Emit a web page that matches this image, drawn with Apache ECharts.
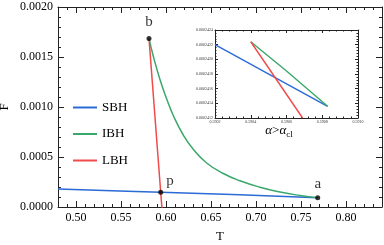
<!DOCTYPE html>
<html><head><meta charset="utf-8">
<script src="https://cdn.jsdelivr.net/npm/echarts@6/dist/echarts.min.js"></script>
<style>html,body{margin:0;padding:0;background:#fff}#c{width:384px;height:245px}</style>
</head><body><div id="c"></div>
<script>
// ---- data ----
const sbhT = [0.48, 0.5941, 0.6822, 0.7686];
const sbhF = [0.000180, 0.000148, 0.000123, 0.000092];
const ibhT = [0.5811, 0.5859, 0.5933, 0.6008, 0.6081, 0.6192, 0.6303, 0.6452, 0.6637, 0.6822, 0.7044, 0.7267, 0.7489, 0.7686];
const ibhF = [0.001685, 0.001508, 0.001275, 0.001080, 0.000915, 0.000720, 0.000578, 0.000440, 0.000335, 0.000262, 0.000198, 0.000150, 0.000115, 0.000092];
const lbhT = [0.5811, 0.5874, 0.5941, 0.5956];
const lbhF = [0.001685, 0.000942, 0.000148, -0.00002];
const ptName = ['a', 'b', 'p'];
const ptT = [0.7686, 0.5811, 0.5941];
const ptF = [0.000092, 0.001685, 0.000148];
const majorT = [0.50, 0.55, 0.60, 0.65, 0.70, 0.75, 0.80];
// inset
const inBlueT = [0.5902, 0.59083];
const inBlueF = [0.0002422, 0.00024136];
const inGreenT = [0.5904, 0.5906, 0.59083];
const inGreenF = [0.00024224, 0.00024184, 0.00024136];
const inRedT = [0.5904, 0.59069];
const inRedF = [0.00024224, 0.0002412];
const inTTicks = [0.5902, 0.5904, 0.5906, 0.5908, 0.5910];
const inFTicks = [0.0002412, 0.0002414, 0.0002416, 0.0002418, 0.0002420, 0.0002422, 0.0002424];

const BLUE = '#2a6bd6', GREEN = '#3aa86b', RED = '#f04a4a', INK = '#222', TK = '#222';
const SERIF = 'Liberation Serif';
const zip = (a, b) => a.map((v, i) => [v, b[i]]);
function minors(ticks, n) {
  const out = [];
  for (let i = 0; i < ticks.length - 1; i++) {
    const s = (ticks[i + 1] - ticks[i]) / n;
    for (let k = 1; k < n; k++) out.push(ticks[i] + k * s);
  }
  return out;
}
const mainMinorT = (function () {
  const t = [0.45].concat(majorT, [0.85]);
  return minors(t, 5).filter(v => v >= 0.48 - 1e-9 && v <= 0.84 + 1e-9);
})();

const mainX = {min: 0.48, max: 0.84};
const inX = {min: 0.5902, max: 0.5910};
const inY = {min: 0.0002412, max: 0.0002424};
function ax(grid, range, pos, ticks, len, line, labels) {
  return Object.assign({
    type: 'value', gridIndex: grid, position: pos,
    splitLine: {show: false},
    axisLine: {show: line, onZero: false, lineStyle: {color: INK, width: 1}},
    axisTick: {show: true, inside: true, length: len, customValues: ticks, lineStyle: {color: TK, width: 1}},
    axisLabel: labels ? labels : {show: false}
  }, range);
}

const chart = echarts.init(document.getElementById('c'), null, {renderer: 'canvas'});
chart.setOption({
  animation: false,
  backgroundColor: '#fff',
  textStyle: {fontFamily: SERIF},
  grid: [
    {left: 58, top: 7, right: 2, bottom: 38},
    {left: 215, top: 30, width: 143, height: 88}
  ],
  legend: {
    data: ['SBH', 'IBH', 'LBH'],
    orient: 'vertical', left: 73, top: 100, itemGap: 11.5, padding: 0,
    icon: 'rect', itemWidth: 24, itemHeight: 2,
    textStyle: {fontFamily: SERIF, fontSize: 13, color: '#000', lineHeight: 15}
  },
  xAxis: [
    ax(0, mainX, 'bottom', majorT, 6, true, {show: true, customValues: majorT, margin: 5, fontFamily: SERIF, fontSize: 12, color: '#000', formatter: v => v.toFixed(2)}),
    ax(0, mainX, 'bottom', mainMinorT, 3, false),
    ax(0, mainX, 'top', majorT, 6, true),
    ax(0, mainX, 'top', mainMinorT, 3, false),
    ax(1, inX, 'bottom', inTTicks, 3, true, {show: true, customValues: inTTicks, margin: 2, fontFamily: SERIF, fontSize: 4, color: '#333', formatter: v => v.toFixed(4)}),
    ax(1, inX, 'bottom', minors(inTTicks, 5), 1.5, false),
    ax(1, inX, 'top', inTTicks, 3, true),
    ax(1, inX, 'top', minors(inTTicks, 5), 1.5, false)
  ],
  yAxis: [
    {type: 'value', gridIndex: 0, position: 'left', min: 0, max: 0.002, interval: 0.0005,
     splitLine: {show: false},
     axisLine: {show: true, onZero: false, lineStyle: {color: INK, width: 1}},
     axisTick: {show: true, inside: true, length: 6, lineStyle: {color: TK, width: 1}},
     minorTick: {show: true, splitNumber: 5, length: 3, lineStyle: {color: TK, width: 1}},
     axisLabel: {margin: 5, fontFamily: SERIF, fontSize: 12, color: '#000', formatter: v => v.toFixed(4)}},
    {type: 'value', gridIndex: 0, position: 'right', min: 0, max: 0.002, interval: 0.0005,
     splitLine: {show: false},
     axisLine: {show: true, onZero: false, lineStyle: {color: INK, width: 1}},
     axisTick: {show: true, inside: true, length: 6, lineStyle: {color: TK, width: 1}},
     minorTick: {show: true, splitNumber: 5, length: 3, lineStyle: {color: TK, width: 1}},
     axisLabel: {show: false}},
    ax(1, inY, 'left', inFTicks, 3, true, {show: true, customValues: inFTicks, margin: 2, fontFamily: SERIF, fontSize: 4, color: '#333', formatter: v => v.toFixed(7)}),
    ax(1, inY, 'left', minors(inFTicks, 5), 1.5, false),
    ax(1, inY, 'right', inFTicks, 3, true),
    ax(1, inY, 'right', minors(inFTicks, 5), 1.5, false)
  ],
  series: [
    {name: 'SBH', type: 'line', xAxisIndex: 0, yAxisIndex: 0, data: zip(sbhT, sbhF), showSymbol: false, smooth: 0.4, lineStyle: {color: BLUE, width: 1.5}, itemStyle: {color: BLUE}},
    {name: 'IBH', type: 'line', xAxisIndex: 0, yAxisIndex: 0, data: zip(ibhT, ibhF), showSymbol: false, smooth: 0.5, lineStyle: {color: GREEN, width: 1.5}, itemStyle: {color: GREEN}},
    {name: 'LBH', type: 'line', xAxisIndex: 0, yAxisIndex: 0, data: zip(lbhT, lbhF), showSymbol: false, smooth: 0.3, clip: true, lineStyle: {color: RED, width: 1.5}, itemStyle: {color: RED}},
    {name: 'pts', type: 'scatter', xAxisIndex: 0, yAxisIndex: 0, z: 5, symbolSize: 5,
     itemStyle: {color: '#000'},
     data: ptName.map((n, i) => ({name: n, value: [ptT[i], ptF[i]],
       label: n === 'p' ? {position: [8, -16]} : (n === 'b' ? {position: 'top', distance: 6} : {position: 'top', distance: 4})})),
     label: {show: true, formatter: p => p.name, fontFamily: SERIF, fontSize: 15, color: '#000'}},
    {name: 'inBlue', type: 'line', xAxisIndex: 4, yAxisIndex: 2, data: zip(inBlueT, inBlueF), showSymbol: false, lineStyle: {color: BLUE, width: 1.4}},
    {name: 'inGreen', type: 'line', xAxisIndex: 4, yAxisIndex: 2, data: zip(inGreenT, inGreenF), showSymbol: false, lineStyle: {color: GREEN, width: 1.4}},
    {name: 'inRed', type: 'line', xAxisIndex: 4, yAxisIndex: 2, data: zip(inRedT, inRedF), showSymbol: false, clip: true, lineStyle: {color: RED, width: 1.4}}
  ],
  graphic: [
    {type: 'text', x: 5, y: 107, rotation: Math.PI / 2, style: {text: 'F', font: '13px "Liberation Serif"', fill: '#000', align: 'center', verticalAlign: 'middle'}},
    {type: 'text', x: 220, y: 237, style: {text: 'T', font: '13px "Liberation Serif"', fill: '#000', align: 'center', verticalAlign: 'middle'}},
    {type: 'text', x: 279, y: 131, style: {
      text: '{i|α}{n|>}{i|α}{s|cl}', align: 'center', verticalAlign: 'middle',
      rich: {
        i: {fontFamily: SERIF, fontStyle: 'italic', fontSize: 13, fill: '#000', lineHeight: 16},
        n: {fontFamily: SERIF, fontSize: 13, fill: '#000', lineHeight: 16},
        s: {fontFamily: SERIF, fontSize: 9, fill: '#000', lineHeight: 16, verticalAlign: 'bottom', padding: [5, 0, 0, 0]}
      }}}
  ]
});
</script></body></html>
